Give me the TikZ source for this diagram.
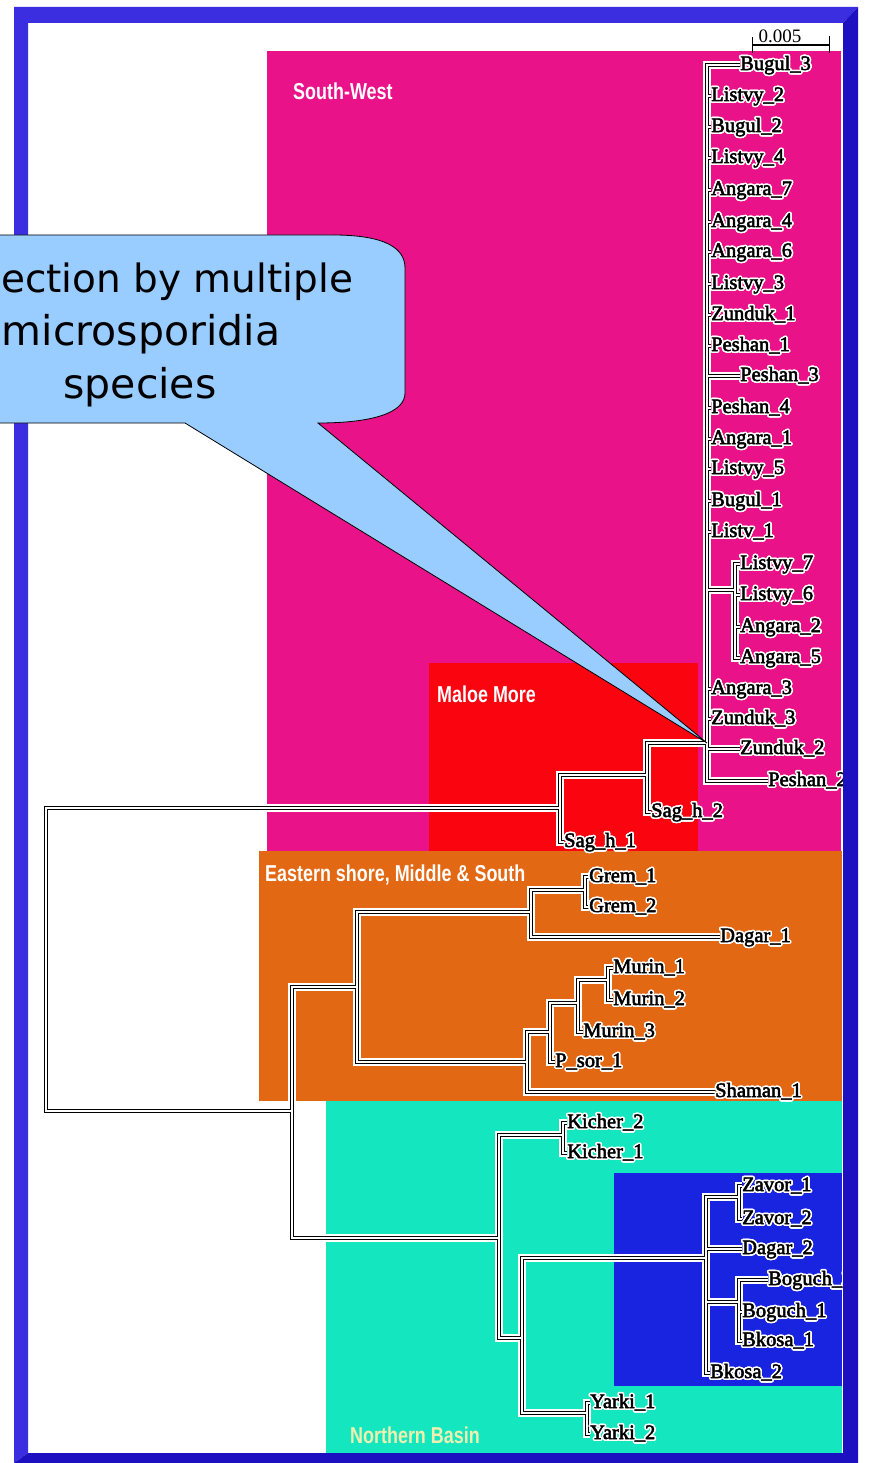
\documentclass[tikz,border=0pt]{standalone}
\usepackage{fontspec}
\usepackage{contour}
\usetikzlibrary{arrows.meta}
\newfontfamily\leaffont[FakeBold=2.5]{Liberation Serif}
\newfontfamily\scalefont{Liberation Serif}
\newfontfamily\regionfont[FakeStretch=0.78]{Liberation Sans}
\newfontfamily\calloutfont{DejaVu Sans}
\contourlength{1.6pt}
\contournumber{16}
\definecolor{framelight}{HTML}{3A2EE0}
\definecolor{framedark}{HTML}{1C10C0}
\definecolor{swpink}{HTML}{EA1288}
\definecolor{mmred}{HTML}{FA0410}
\definecolor{esorange}{HTML}{E36814}
\definecolor{nbteal}{HTML}{14E6C0}
\definecolor{nbblue}{HTML}{1824E0}
\definecolor{nbtext}{HTML}{EEF0B0}
\definecolor{callblue}{HTML}{99CCFF}
\pgfdeclarelayer{bg}
\pgfsetlayers{bg,main}
\tikzset{
  leaf/.style={anchor=west, inner sep=0pt, text height=13pt, text depth=3pt,
    font=\leaffont\fontsize{20.5}{24}\selectfont},
  region/.style={anchor=base west, inner sep=0pt, text=white,
    font=\regionfont\bfseries\fontsize{23}{26}\selectfont},
  halo/.style={white, line width=8pt},
  branch/.style={black, line width=1.2pt, double=white, double distance=1.5pt},
  calltext/.style={inner sep=0pt, font=\calloutfont\fontsize{41}{50}\selectfont}
}
\newcommand{\lf}[1]{\contour{white}{#1}}
\newcommand{\treepath}[1]{%
  \draw[#1] (root) |- (nA) (root) |- (nB)
    (nA) |- (nSag) (nA) |- (sagh1.west)
    (nSag) |- (nSW) (nSag) |- (sagh2.west)
    (nSW) |- (nLis)
    \foreach \c in {bugul3,listvy2,bugul2,listvy4,angara7,angara4,angara6,listvy3,zunduk1,peshan1,
      peshan3,peshan4,angara1,listvy5,bugul1,listv1,angara3,zunduk3,zunduk2,peshan2} {(nSW) |- (\c.west)}
    \foreach \c in {listvy7,listvy6,angara2,angara5} {(nLis) |- (\c.west)}
    (nB) |- (nE) (nB) |- (nN)
    (nE) |- (nEu) (nE) |- (nEl)
    (nEu) |- (nGrem) (nEu) |- (dagar1.west)
    (nGrem) |- (grem1.west) (nGrem) |- (grem2.west)
    (nEl) |- (nPs) (nEl) |- (shaman1.west)
    (nPs) |- (nM3) (nPs) |- (psor1.west)
    (nM3) |- (nMur) (nM3) |- (murin3.west)
    (nMur) |- (murin1.west) (nMur) |- (murin2.west)
    (nN) |- (nKich) (nN) |- (nNl)
    (nKich) |- (kicher2.west) (nKich) |- (kicher1.west)
    (nNl) |- (nBl) (nNl) |- (nYar)
    (nYar) |- (yarki1.west) (nYar) |- (yarki2.west)
    (nBl) |- (nZav) (nBl) |- (dagar2.west) (nBl) |- (nBog) (nBl) |- (bkosa2.west)
    (nZav) |- (zavor1.west) (nZav) |- (zavor2.west)
    (nBog) |- (boguch2.west) (nBog) |- (boguch1.west) (nBog) |- (bkosa1.west);
}
\begin{document}
\begin{tikzpicture}[x=1pt,y=-1pt,line join=round]
\useasboundingbox (0,0) rectangle (870,1463);
% inner nodes of the tree
\coordinate (root) at (46,960);
\coordinate (nA) at (560,808);
\coordinate (nSag) at (647,775);
\coordinate (nSW) at (707,743);
\coordinate (nLis) at (735,590);
\coordinate (nB) at (292,1111);
\coordinate (nE) at (357,987);
\coordinate (nEu) at (531,912);
\coordinate (nGrem) at (585,890);
\coordinate (nEl) at (527,1062);
\coordinate (nPs) at (550,1032);
\coordinate (nM3) at (578,1003);
\coordinate (nMur) at (608,980);
\coordinate (nN) at (499,1238);
\coordinate (nKich) at (563,1135);
\coordinate (nNl) at (522,1338);
\coordinate (nYar) at (587,1413);
\coordinate (nBl) at (706,1258);
\coordinate (nZav) at (739,1197);
\coordinate (nBog) at (739,1302);
% leaves
\foreach \n/\t/\x/\y in {bugul3/Bugul\_3/740/65, listvy2/Listvy\_2/711/96, bugul2/Bugul\_2/711/127,
  listvy4/Listvy\_4/711/158, angara7/Angara\_7/711/190, angara4/Angara\_4/711/222,
  angara6/Angara\_6/711/252, listvy3/Listvy\_3/711/284, zunduk1/Zunduk\_1/711/315,
  peshan1/Peshan\_1/711/346, peshan3/Peshan\_3/740/376, peshan4/Peshan\_4/711/408,
  angara1/Angara\_1/711/439, listvy5/Listvy\_5/711/469, bugul1/Bugul\_1/711/501,
  listv1/Listv\_1/711/532, listvy7/Listvy\_7/740/564, listvy6/Listvy\_6/740/595,
  angara2/Angara\_2/740/627, angara5/Angara\_5/740/658, angara3/Angara\_3/711/689,
  zunduk3/Zunduk\_3/711/719, zunduk2/Zunduk\_2/740/749, peshan2/Peshan\_2/768/781}
  \node[leaf] (\n) at (\x,\y) {\lf{\t}};
\node[leaf] (sagh2) at (651,812) {\lf{Sag\_h\_2}};
\node[leaf] (sagh1) at (564,842) {\lf{Sag\_h\_1}};
\node[leaf] (grem1) at (589,877) {\lf{Grem\_1}};
\node[leaf] (grem2) at (589,907) {\lf{Grem\_2}};
\node[leaf] (dagar1) at (720,937) {\lf{Dagar\_1}};
\node[leaf] (murin1) at (613,968) {\lf{Murin\_1}};
\node[leaf] (murin2) at (613,1000) {\lf{Murin\_2}};
\node[leaf] (murin3) at (583,1032) {\lf{Murin\_3}};
\node[leaf] (psor1) at (555,1062) {\lf{P\_sor\_1}};
\node[leaf] (shaman1) at (715,1092) {\lf{Shaman\_1}};
\node[leaf] (kicher2) at (567,1123) {\lf{Kicher\_2}};
\node[leaf] (kicher1) at (567,1153) {\lf{Kicher\_1}};
\node[leaf] (zavor1) at (742,1186) {\lf{Zavor\_1}};
\node[leaf] (zavor2) at (742,1219) {\lf{Zavor\_2}};
\node[leaf] (dagar2) at (742,1249) {\lf{Dagar\_2}};
\node[leaf] (boguch2) at (768,1280) {\lf{Boguch\_2}};
\node[leaf] (boguch1) at (742,1312) {\lf{Boguch\_1}};
\node[leaf] (bkosa1) at (742,1341) {\lf{Bkosa\_1}};
\node[leaf] (bkosa2) at (710,1373) {\lf{Bkosa\_2}};
\node[leaf] (yarki1) at (590,1403) {\lf{Yarki\_1}};
\node[leaf] (yarki2) at (590,1434) {\lf{Yarki\_2}};
\begin{pgfonlayer}{bg}
  \fill[white] (0,0) rectangle (870,1463);
  \fill[swpink] (267,51) rectangle (841,852);
  \fill[mmred] (429,663) rectangle (698,852);
  \fill[esorange] (259,851) rectangle (842,1101);
  \fill[nbteal] (326,1101) rectangle (842,1453);
  \fill[nbblue] (614,1173) rectangle (842,1386);
  \treepath{halo, line join=miter}
  \treepath{branch, line join=miter}
\end{pgfonlayer}
\node[region] (swlab) at (293,100) {South-West};
\node[region] (mmlab) at (437,702) {Maloe More};
\node[region] (eslab) at (265,881) {Eastern shore, Middle \& South};
\node[region, text=nbtext] (nblab) at (350,1443) {Northern Basin};
% scale bar
\coordinate (sbl) at (752,45);
\coordinate (sbr) at (830,45);
\draw[{Bar[width=16pt]}-{Bar[width=17pt]}, line width=1.2pt, line join=miter] (sbl) -- (sbr);
\node[anchor=base, inner sep=0pt, font=\scalefont\fontsize{19}{22}\selectfont] (sbtxt) at (780,43) {0.005};
% frame
\fill[framelight] (14,7) -- (858,7) -- (843,23) -- (28,23) -- (28,1453) -- (14,1463) -- cycle;
\fill[framedark] (858,7) -- (858,1463) -- (14,1463) -- (28,1453) -- (843,1453) -- (843,23) -- cycle;
% callout
\filldraw[fill=callblue, draw=black, line width=0.8pt, line join=miter] (-20,235) -- (333,235)
  .. controls (385,235) and (405,248) .. (405,268) -- (405,393)
  .. controls (405,412) and (375,423) .. (318,423) -- (nSW) -- (185,423) -- (-20,423) -- cycle;
\node[calltext, anchor=base west, font=\calloutfont\fontsize{39}{50}\selectfont] (callA) at (1,292) {ection by multiple};
\node[calltext, anchor=base] (callB) at (141,345) {microsporidia};
\node[calltext, anchor=base] (callC) at (140,398) {species};
\end{tikzpicture}
\end{document}
